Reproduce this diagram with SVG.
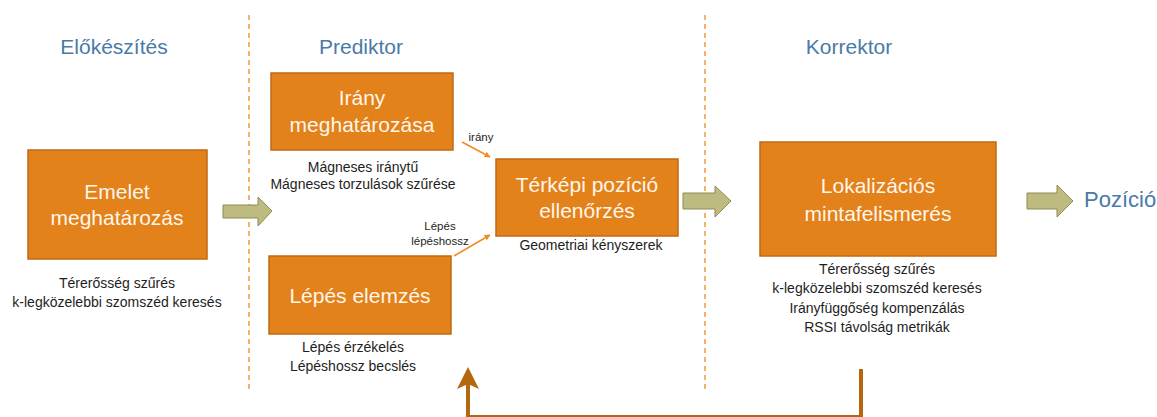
<svg xmlns="http://www.w3.org/2000/svg" width="1157" height="417" viewBox="0 0 1157 417">
  <defs>
    <style>
      .box { fill: #e3811a; stroke: #c06a14; stroke-width: 1.5; }
      .boxtxt { font-family: "Liberation Sans", Arial, sans-serif; font-size: 21px; fill: #fff6ea; text-anchor: middle; }
      .cap { font-family: "Liberation Sans", Arial, sans-serif; font-size: 14px; fill: #1e1e1e; text-anchor: middle; }
      .small { font-family: "Liberation Sans", Arial, sans-serif; font-size: 11.5px; fill: #1e1e1e; text-anchor: middle; }
      .title { font-family: "Liberation Sans", Arial, sans-serif; font-size: 21px; fill: #4a7aa8; text-anchor: middle; }
      .sep { stroke: #f29a3a; stroke-width: 1.5; stroke-dasharray: 5 4; fill: none; }
      .big { fill: #bdbb80; stroke: #8f8c55; stroke-width: 1; }
      .thin { stroke: #f08a22; stroke-width: 1.5; fill: none; marker-end: url(#tip); }
      .fb { stroke: #b3670f; stroke-width: 4; fill: none; }
    </style>
    <marker id="tip" viewBox="0 0 10 10" refX="9" refY="5" markerWidth="6" markerHeight="6" orient="auto" markerUnits="userSpaceOnUse">
      <path d="M0,0 L10,5 L0,10 z" fill="#f08a22"/>
    </marker>
  </defs>

  <rect width="1157" height="417" fill="#ffffff"/>

  <!-- phase separators -->
  <line class="sep" x1="249" y1="15" x2="249" y2="390"/>
  <line class="sep" x1="705" y1="15" x2="705" y2="390"/>

  <!-- phase titles -->
  <text class="title" x="114" y="54">Előkészítés</text>
  <text class="title" x="361" y="54">Prediktor</text>
  <text class="title" x="849" y="54">Korrektor</text>

  <g id="emelet">
    <rect class="box" x="28" y="150" width="179" height="109"/>
    <text class="boxtxt" x="117" y="199">Emelet</text>
    <text class="boxtxt" x="117" y="225">meghatározás</text>
    <text class="cap" x="117" y="288">Térerősség szűrés</text>
    <text class="cap" x="117" y="307">k-legközelebbi szomszéd keresés</text>
  </g>

  <g id="irany">
    <rect class="box" x="271" y="73" width="182" height="77"/>
    <text class="boxtxt" x="362" y="105">Irány</text>
    <text class="boxtxt" x="362" y="132">meghatározása</text>
    <text class="cap" x="363" y="172">Mágneses iránytű</text>
    <text class="cap" x="363" y="189">Mágneses torzulások szűrése</text>
  </g>

  <g id="lepes">
    <rect class="box" x="269" y="256" width="182" height="78"/>
    <text class="boxtxt" x="360" y="303">Lépés elemzés</text>
    <text class="cap" x="353" y="352">Lépés érzékelés</text>
    <text class="cap" x="353" y="371">Lépéshossz becslés</text>
  </g>

  <g id="terkep">
    <rect class="box" x="496" y="159" width="182" height="77"/>
    <text class="boxtxt" x="587" y="192">Térképi pozíció</text>
    <text class="boxtxt" x="587" y="218">ellenőrzés</text>
    <text class="cap" x="591" y="250">Geometriai kényszerek</text>
  </g>

  <g id="lokalizacio">
    <rect class="box" x="760" y="142" width="236" height="114"/>
    <text class="boxtxt" x="878" y="193">Lokalizációs</text>
    <text class="boxtxt" x="878" y="221">mintafelismerés</text>
    <text class="cap" x="877" y="274">Térerősség szűrés</text>
    <text class="cap" x="877" y="293">k-legközelebbi szomszéd keresés</text>
    <text class="cap" x="877" y="313">Irányfüggőség kompenzálás</text>
    <text class="cap" x="877" y="332">RSSI távolság metrikák</text>
  </g>

  <g id="pozicio">
    <text class="title" x="1084" y="207" style="text-anchor:start;font-size:22px">Pozíció</text>
  </g>

  <g id="connectors">
    <!-- block arrows between stages -->
    <path class="big" d="M223,205 L258,205 L258,197 L272,211 L258,226 L258,218 L223,218 z"/>
    <path class="big" d="M683,193 L715,193 L715,186 L731,201 L715,217 L715,209 L683,209 z"/>
    <path class="big" d="M1027,193 L1057,193 L1057,185 L1073,201 L1057,217 L1057,209 L1027,209 z"/>

    <!-- heading and step inputs -->
    <line class="thin" x1="462" y1="142" x2="490" y2="157"/>
    <text class="small" x="481" y="141">irány</text>
    <line class="thin" x1="454" y1="256" x2="490" y2="235"/>
    <text class="small" x="440" y="230">Lépés</text>
    <text class="small" x="440" y="245">lépéshossz</text>

    <!-- feedback loop -->
    <polyline class="fb" points="861,369 861,417 468,417 468,384"/>
    <path d="M457,389 L468,367 L479,389 L468,384 z" fill="#b3670f"/>
  </g>
</svg>
